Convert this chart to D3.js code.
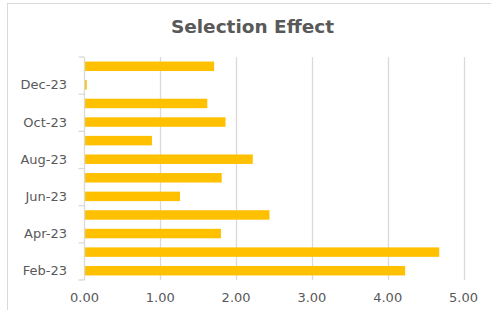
<!DOCTYPE html>
<html>
<head>
  <style>
    body { margin: 0; background: #fff; }
    text { font-family: "DejaVu Sans", Verdana, sans-serif; fill: #595959; }
  </style>
</head>
<body>
  <script src="https://d3js.org/d3.v7.min.js"></script>
  <script>
    // months from bottom (Feb-23) to top (Jan-24)
    const months = ["Feb-23", "Mar-23", "Apr-23", "May-23", "Jun-23", "Jul-23",
                    "Aug-23", "Sep-23", "Oct-23", "Nov-23", "Dec-23", "Jan-24"];
    const values = [4.23, 4.68, 1.80, 2.44, 1.26, 1.81, 2.22, 0.89, 1.86, 1.62, 0.03, 1.71];
    const xTicks = [0, 1, 2, 3, 4, 5];
    const shownLabels = ["Feb-23", "Apr-23", "Jun-23", "Aug-23", "Oct-23", "Dec-23"];

    const width = 491, height = 310;
    const margin = { top: 57, right: 28, bottom: 30, left: 84.5 };

    const svg = d3.select("body").append("svg")
      .attr("width", width)
      .attr("height", height);

    // chart area border (runs off the picture on the right and bottom)
    svg.append("rect")
      .attr("x", 7.5).attr("y", 3.5)
      .attr("width", 520).attr("height", 340)
      .attr("fill", "none")
      .attr("stroke", "#d9d9d9");

    svg.append("text")
      .attr("x", 252.5).attr("y", 33)
      .attr("text-anchor", "middle")
      .style("font-size", "18.5px")
      .style("font-weight", "bold")
      .text("Selection Effect");

    const x = d3.scaleLinear()
      .domain([0, 5])
      .range([margin.left, 463.5]);

    const y = d3.scaleBand()
      .domain(months.slice().reverse())
      .range([margin.top, 280])
      .paddingInner(0.49)
      .paddingOuter(0.245);

    // gridlines
    svg.append("g")
      .selectAll("line")
      .data(xTicks.slice(1))
      .join("line")
      .attr("x1", d => Math.round(x(d)) + 0.5)
      .attr("x2", d => Math.round(x(d)) + 0.5)
      .attr("y1", margin.top)
      .attr("y2", 280)
      .attr("stroke", "#d9d9d9")
      .attr("stroke-width", 1.3);

    // bars
    svg.append("g")
      .selectAll("rect")
      .data(months)
      .join("rect")
      .attr("x", x(0))
      .attr("y", d => y(d))
      .attr("width", (d, i) => x(values[i]) - x(0))
      .attr("height", y.bandwidth())
      .attr("fill", "#ffc000");

    // y axis line and ticks between every second category
    const ax = svg.append("g");
    ax.append("line")
      .attr("x1", margin.left).attr("x2", margin.left)
      .attr("y1", margin.top).attr("y2", 280)
      .attr("stroke", "#d9d9d9")
      .attr("stroke-width", 1.3);
    ax.selectAll(".tk")
      .data(d3.range(0, 13, 2))
      .join("line")
      .attr("class", "tk")
      .attr("x1", margin.left - 6).attr("x2", margin.left)
      .attr("y1", i => 280 - i * (280 - margin.top) / 12)
      .attr("y2", i => 280 - i * (280 - margin.top) / 12)
      .attr("stroke", "#d9d9d9")
      .attr("stroke-width", 1.3);

    ax.selectAll("text")
      .data(shownLabels)
      .join("text")
      .attr("x", 67)
      .attr("y", d => y(d) + y.bandwidth() / 2)
      .attr("dy", "0.35em")
      .attr("text-anchor", "end")
      .style("font-size", "13px")
      .text(d => d);

    // x axis labels
    svg.append("g")
      .selectAll("text")
      .data(xTicks)
      .join("text")
      .attr("x", d => x(d))
      .attr("y", 302)
      .attr("text-anchor", "middle")
      .style("font-size", "13px")
      .text(d => d3.format(".2f")(d));
  </script>
</body>
</html>
